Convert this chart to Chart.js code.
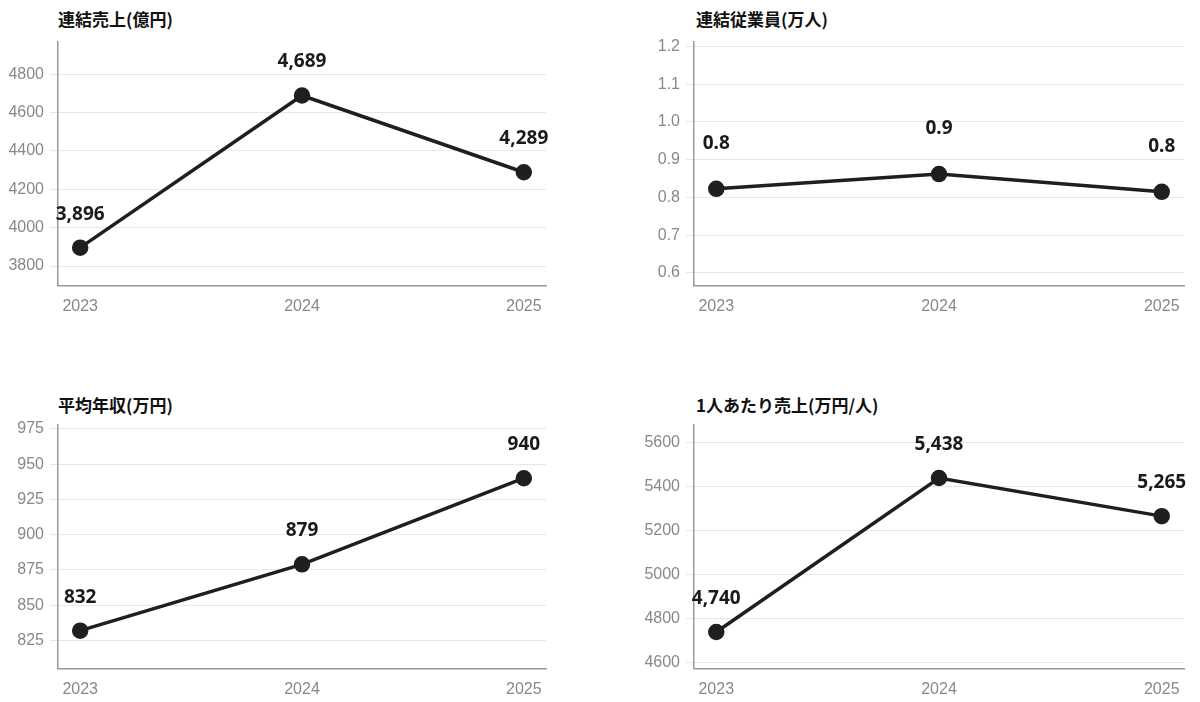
<!DOCTYPE html>
<html><head><meta charset="utf-8">
<script src="https://cdn.jsdelivr.net/npm/chart.js@4"></script>
<style>
body{margin:0;background:#fff;width:1200px;height:702px;position:relative;font-family:"Noto Sans CJK JP","Noto Sans",sans-serif}
.t{position:absolute;font-weight:bold;font-size:17px;color:#111}
.c{position:absolute;width:548px;height:293px}
.r{width:550px}
</style></head><body>
<div class="t" style="left:58px;top:6px">連結売上(億円)</div>
<div class="t" style="left:696px;top:6px">連結従業員(万人)</div>
<div class="t" style="left:58px;top:392px">平均年収(万円)</div>
<div class="t" style="left:696px;top:392px">1人あたり売上(万円/人)</div>
<div class="c" style="left:8px;top:26px"><canvas id="c1"></canvas></div>
<div class="c r" style="left:644px;top:26px"><canvas id="c2"></canvas></div>
<div class="c" style="left:8px;top:409px"><canvas id="c3"></canvas></div>
<div class="c r" style="left:644px;top:409px"><canvas id="c4"></canvas></div>
<script>
const years = [2023, 2024, 2025];
const sales = [3896, 4689, 4289];
const employees = [0.823, 0.862, 0.815];
const employeeLabels = ['0.8', '0.9', '0.8'];
const salary = [832, 879, 940];
const perHead = [4740, 5438, 5265];

const salesTicks = [3800, 4000, 4200, 4400, 4600, 4800];
const empTicks = [0.6, 0.7, 0.8, 0.9, 1.0, 1.1, 1.2];
const salaryTicks = [825, 850, 875, 900, 925, 950, 975];
const perHeadTicks = [4600, 4800, 5000, 5200, 5400, 5600];

const labelPlugin = {
    id: 'valueLabels',
    afterDatasetsDraw(chart, args, opts) {
        const ctx = chart.ctx;
        const meta = chart.getDatasetMeta(0);
        ctx.save();
        ctx.font = 'bold 19px "Noto Sans", sans-serif';
        ctx.fillStyle = '#1a1a1a';
        ctx.textAlign = 'center';
        ctx.textBaseline = 'bottom';
        meta.data.forEach((pt, i) => {
            ctx.fillText(opts.texts[i], pt.x, pt.y - opts.offset);
        });
        ctx.restore();
    }
};

function makeChart(id, values, texts, ticks, min, max, offset, decimals) {
    new Chart(document.getElementById(id), {
        type: 'line',
        data: {
            datasets: [{
                data: years.map((y, i) => ({x: y, y: values[i]})),
                borderColor: '#1f1f1f',
                backgroundColor: '#1f1f1f',
                borderWidth: 3.5,
                pointRadius: 6.5,
                tension: 0
            }]
        },
        options: {
            responsive: true,
            maintainAspectRatio: false,
            animation: false,
            plugins: {legend: {display: false}, tooltip: {enabled: false},
                valueLabels: {texts: texts, offset: offset}},
            scales: {
                x: {
                    type: 'linear', min: 2022.9, max: 2025.1,
                    afterBuildTicks: s => { s.ticks = years.map(v => ({value: v})); },
                    grid: {display: false},
                    border: {color: '#999', width: 1.5},
                    ticks: {color: '#888', font: {size: 16}, callback: v => String(v), maxRotation: 0}
                },
                y: {
                    min: min, max: max,
                    afterBuildTicks: s => { s.ticks = ticks.map(v => ({value: v})); },
                    afterFit: s => { s.width = 50; },
                    grid: {color: '#e8e8e8'},
                    border: {color: '#999', width: 1.5},
                    ticks: {color: '#888', font: {size: 16}, padding: 6,
                        callback: v => v.toFixed(decimals)}
                }
            }
        },
        plugins: [labelPlugin]
    });
}

makeChart('c1', sales, sales.map(v => v.toLocaleString('en-US')), salesTicks, 3697, 4970, 24, 0);
makeChart('c2', employees, employeeLabels, empTicks, 0.566, 1.213, 36, 1);
makeChart('c3', salary, salary.map(String), salaryTicks, 805, 978, 24, 0);
makeChart('c4', perHead, perHead.map(v => v.toLocaleString('en-US')), perHeadTicks, 4573, 5680, 24, 0);
</script>
</body></html>
